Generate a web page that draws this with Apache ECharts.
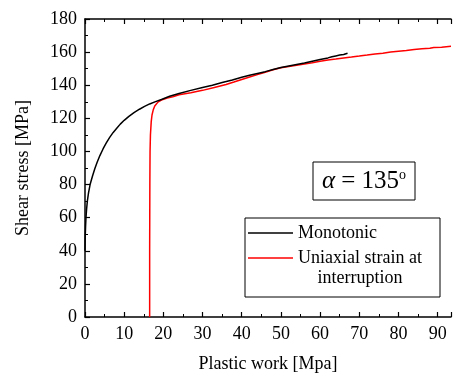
<!DOCTYPE html>
<html><head><meta charset="utf-8">
<script src="https://cdn.jsdelivr.net/npm/echarts@6/dist/echarts.min.js"></script>
<style>html,body{margin:0;padding:0;background:#fff}#c{width:454px;height:378px}</style>
</head><body><div id="c"></div>
<script>
const xTicks = [0,10,20,30,40,50,60,70,80,90];
const yTicks = [0,20,40,60,80,100,120,140,160,180];
const monotonic = [[0,40],[0.05,48],[0.15,55],[0.25,60],[0.4,65],[0.6,70],[0.9,75],[1.3,80],[1.9,85],[2.5,89.5],[3.1,93.5],[3.8,97.5],[4.6,101.5],[5.4,105],[6.3,108.5],[7.2,111.5],[8.1,114],[9,116.5],[10,118.8],[11.2,121.2],[12.5,123.4],[13.9,125.5],[15.2,127.2],[16.5,128.7],[18,130.1],[19.5,131.4],[21.6,133.3],[24,135],[27,136.9],[30,138.6],[32.5,140],[35,141.6],[37.6,143.2],[40,144.8],[42,146],[44,147.1],[46,148.2],[48,149.5],[50,150.7],[52,151.6],[54,152.5],[56,153.4],[58,154.5],[60,155.5],[62,156.5],[63,157.2],[64,157.7],[65,158.2],[66,158.6],[67,159.3]];
const interrupted = [[16.5,0],[16.5,40],[16.55,80],[16.6,100],[16.7,110],[16.9,118],[17.1,122],[17.4,125],[17.8,127.5],[18.6,129.8],[19.5,131],[21,132.2],[22.4,133],[24,134.2],[27,135.5],[30,136.9],[33,138.6],[36,140.4],[38,141.9],[40,143.5],[42,145],[44,146.4],[46,147.8],[48,149.3],[50,150.5],[52,151.3],[54,152],[56,152.8],[58,153.6],[60,154.5],[62,155.2],[64,155.8],[66,156.5],[68,157],[70,157.6],[71,158],[72,158.2],[74,158.8],[76,159.3],[78,160],[80,160.5],[82,161],[84,161.6],[86,162],[88,162.3],[89,162.8],[91,163],[93.4,163.5]];
const seriesNames = ['Monotonic','Uniaxial strain at','interruption'];
const xMax = 93.4;

const F = 'Liberation Serif';
const chart = echarts.init(document.getElementById('c'), null, {renderer:'canvas'});
const axisCommon = {
  min: 0,
  axisLine:{show:true,lineStyle:{color:'#000',width:1.5}},
  axisTick:{show:true,inside:true,length:5,lineStyle:{color:'#000',width:1.2}},
  minorTick:{show:true,splitNumber:2,length:3,lineStyle:{color:'#000',width:1}},
  splitLine:{show:false}
};
chart.setOption({
  animation:false,
  backgroundColor:'#fff',
  grid:{left:85,right:1,top:19,bottom:56},
  xAxis:[
    Object.assign({}, axisCommon, {type:'value',position:'bottom',max:xMax,interval:10,
      name:'Plastic work [Mpa]',nameLocation:'middle',nameGap:38,
      nameTextStyle:{fontFamily:F,fontSize:18,color:'#000'},
      axisLabel:{margin:8,fontFamily:F,fontSize:18,color:'#000',
        formatter:v=> xTicks.includes(Math.round(v*1000)/1000) ? String(v) : ''}}),
    Object.assign({}, axisCommon, {type:'value',position:'top',max:xMax,interval:10,
      axisLabel:{show:false}})
  ],
  yAxis:[
    Object.assign({}, axisCommon, {type:'value',max:180,interval:20,
      name:'Shear stress [MPa]',nameLocation:'middle',nameGap:53,
      nameTextStyle:{fontFamily:F,fontSize:18,color:'#000'},
      axisLabel:{margin:8,fontFamily:F,fontSize:18,color:'#000',
        formatter:v=> yTicks.includes(v) ? String(v) : ''}})
  ],
  series:[
    {type:'line',name:seriesNames[0],data:monotonic,showSymbol:false,xAxisIndex:0,
      lineStyle:{color:'#000',width:1.5},z:3},
    {type:'line',name:seriesNames[1]+' '+seriesNames[2],data:interrupted,showSymbol:false,xAxisIndex:0,
      lineStyle:{color:'#ff0000',width:1.5},z:2}
  ],
  graphic:[
    {type:'rect',shape:{x:313,y:162,width:102,height:38},style:{fill:'#fff',stroke:'#000',lineWidth:1}},
    {type:'text',x:364,y:181,style:{
      text:'{a|α}{b| = 135}{c|o}',align:'center',verticalAlign:'middle',
      rich:{a:{fontFamily:F,fontStyle:'italic',fontSize:25,fill:'#000'},
            b:{fontFamily:F,fontSize:25,fill:'#000'},
            c:{fontFamily:F,fontSize:14,fill:'#000',verticalAlign:'top',padding:[0,0,12,0]}}}},
    {type:'rect',shape:{x:245,y:218,width:195,height:79},style:{fill:'#fff',stroke:'#000',lineWidth:1}},
    {type:'line',shape:{x1:248,y1:233,x2:293,y2:233},style:{stroke:'#000',lineWidth:1.5}},
    {type:'line',shape:{x1:248,y1:258,x2:293,y2:258},style:{stroke:'#ff0000',lineWidth:1.5}},
    {type:'text',x:298,y:233,style:{text:seriesNames[0],fontFamily:F,fontSize:18,fill:'#000',verticalAlign:'middle'}},
    {type:'text',x:298,y:258,style:{text:seriesNames[1],fontFamily:F,fontSize:18,fill:'#000',verticalAlign:'middle'}},
    {type:'text',x:360,y:278,style:{text:seriesNames[2],fontFamily:F,fontSize:18,fill:'#000',align:'center',verticalAlign:'middle'}}
  ]
});
</script></body></html>
